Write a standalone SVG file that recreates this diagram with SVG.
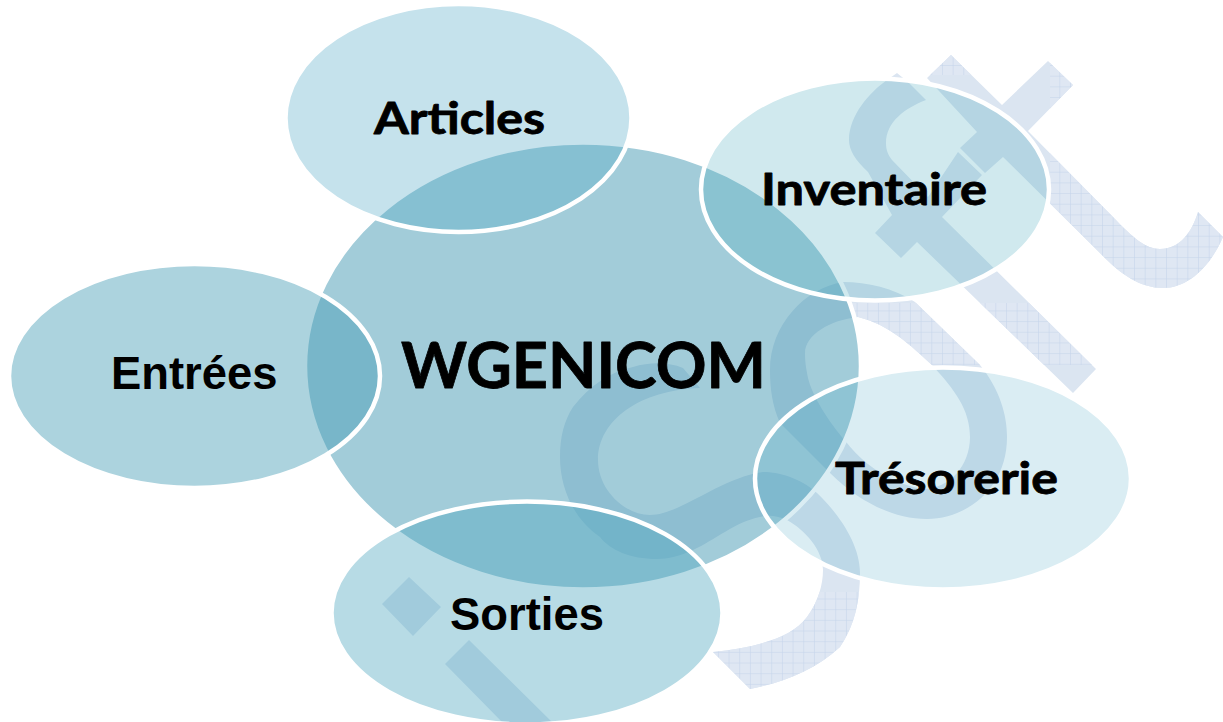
<svg xmlns="http://www.w3.org/2000/svg" width="1223" height="722" viewBox="0 0 1223 722">
<style>
.wm{fill:#dbe5f1}
.hx{fill:url(#grid)}
.node{stroke:#fff;stroke-width:4.5}
text{fill:#000;text-anchor:start}
.comic{font-family:"Lato","Open Sans",sans-serif;font-weight:700;stroke:#000;stroke-width:.8;stroke-linejoin:round;paint-order:stroke}
.arial{font-family:"Liberation Sans",Arial,sans-serif;font-weight:700;font-size:45.4px}
</style>
<defs>
<pattern id="grid" width="10.67" height="10.67" patternUnits="userSpaceOnUse" x="3" y="1">
<rect width="10.67" height="10.67" fill="#dfe7f3"/>
<path d="M0,0H10.67M0,0V10.67" fill="none" stroke="#c3d3ea" stroke-width="1"/>
</pattern>
<clipPath id="bands">
<rect x="1050" y="0" width="173" height="300"/>
<rect x="850" y="303" width="250" height="62"/>
<rect x="700" y="592" width="175" height="100"/>
<rect x="920" y="40" width="90" height="35"/>
</clipPath>
<path id="t" d="M951,55L1002,105L1048,61L1073,85L1028,131L1113,217C1133,238 1146,249 1160,249C1180,249 1192,232 1198,212L1223,237C1210,267 1188,288 1163,288C1140,288 1120,274 1100,253L1003,157L985,173L960,148L977,132L927,78Z"/>
<path id="f" d="M897,73L908,82L926,100C905,108 886,122 886,143C886,150 888,155 892,160L928,197L958,152L982,175L942,217L1096,369L1073,393L917,242L901,258L875,233L892,215L868,172C855,160 849,150 849,140C849,115 870,92 887,80Z"/>
<path id="s1" d="M843,282C868,282 893,288 915,302L980,365C1000,390 1007,415 1007,437C1007,490 965,519 927,519C895,519 860,503 830,473L780,423C772,405 770,388 770,370C770,325 805,288 843,282ZM858,317C830,320 805,335 805,353C805,365 807,372 808,378C812,395 827,420 847,443C860,460 887,483 923,489C950,489 970,465 970,437C970,410 955,390 932,365C910,345 890,325 858,317Z" fill-rule="evenodd"/>
<path id="s2" d="M683,368L700,388C640,390 598,420 598,460C598,490 625,515 650,515C680,515 720,478 763,472C785,472 805,482 817,493C840,515 860,545 860,573C860,600 855,625 840,647C815,670 785,682 750,689L713,652C750,648 790,640 807,617C818,602 823,585 823,570C823,550 805,530 787,520C775,515 768,515 760,517C735,522 715,540 693,550C680,556 668,559 657,559C630,559 610,550 600,537C575,520 560,490 560,457C560,437 564,421 573,407C590,385 610,372 633,367C650,362 668,362 683,368Z"/>
<path id="s3" d="M409,577L441,607L413,636L382,604ZM469,640L552,722H502L445,664Z"/>
</defs>
<g id="watermark" class="wm">
<use href="#t"/><use href="#f"/><use href="#s1"/><use href="#s2"/><use href="#s3"/>
</g>
<g id="watermark-hatch" class="hx" clip-path="url(#bands)">
<use href="#t"/><use href="#f"/><use href="#s1"/><use href="#s2"/>
</g>
<g id="wgenicom">
<ellipse class="node" cx="583" cy="366" rx="278" ry="223.500" fill="#308eab" fill-opacity=".45"/>
<text class="comic" x="401" y="388" font-size="64" textLength="365" lengthAdjust="spacingAndGlyphs">WGENICOM</text>
</g>
<g id="articles">
<ellipse class="node" cx="458.500" cy="118" rx="173" ry="114" fill="#4fa7c5" fill-opacity=".33"/>
<text class="comic" x="374" y="134" font-size="43" textLength="171" lengthAdjust="spacingAndGlyphs">Articles</text>
</g>
<g id="entrees">
<ellipse class="node" cx="194.500" cy="376" rx="185.500" ry="112" fill="#429bb4" fill-opacity=".44"/>
<text class="arial" x="111" y="389">Entrées</text>
</g>
<g id="inventaire">
<ellipse class="node" cx="875" cy="189.500" rx="174" ry="111" fill="#43a7bb" fill-opacity=".25"/>
<text class="comic" x="761" y="205" font-size="43" textLength="226" lengthAdjust="spacingAndGlyphs">Inventaire</text>
</g>
<g id="tresorerie">
<ellipse class="node" cx="943" cy="478.500" rx="188" ry="111" fill="#46a5c3" fill-opacity=".2"/>
<text class="comic" x="835" y="494" font-size="43" textLength="223" lengthAdjust="spacingAndGlyphs">Trésorerie</text>
</g>
<g id="sorties">
<ellipse class="node" cx="527" cy="613" rx="195.500" ry="111.500" fill="#4ba5be" fill-opacity=".4"/>
<text class="arial" x="450" y="630">Sorties</text>
</g>
</svg>
